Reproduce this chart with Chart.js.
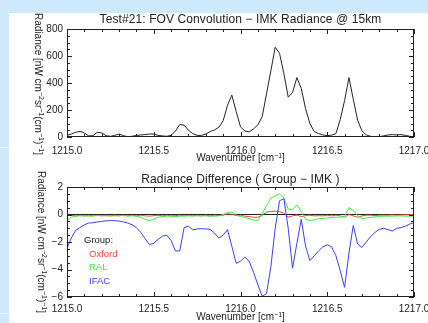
<!DOCTYPE html>
<html>
<head>
<meta charset="utf-8">
<script src="https://cdn.jsdelivr.net/npm/chart.js@4.4.1/dist/chart.umd.min.js"></script>
<style>
  html, body { margin: 0; padding: 0; width: 428px; height: 323px; overflow: hidden; background: #cde9fa; }
  body { position: relative; font-family: "Liberation Sans", Arial, sans-serif; color: #222; }
  #panel { position: absolute; left: 9px; top: 13px; width: 419px; height: 310px; background: #fff; }
  .rule { position: absolute; left: 0; width: 9px; height: 1px; background: #eaf5fd; }
  canvas { position: absolute; left: 0; }
  #top-chart { top: 0; }
  #bottom-chart { top: 160px; }
  .t { position: absolute; white-space: nowrap; line-height: 1; }
  .title { font-size: 12px; letter-spacing: 0.1px; left: 0; width: 481px; text-align: center; }
  .xtitle { font-size: 10px; left: 0; width: 481px; text-align: center; }
  .ytitle { font-size: 10px; writing-mode: vertical-rl; }
  sup { font-size: 7px; line-height: 0; vertical-align: 3px; }
  .leg { font-size: 9.5px; }
</style>
</head>
<body>
<div id="panel"></div>
<div class="rule" style="top:147px"></div>
<div class="rule" style="top:313px"></div>

<canvas id="top-chart" width="428" height="160"></canvas>
<canvas id="bottom-chart" width="428" height="163"></canvas>

<div class="t title" style="top:13px">Test#21: FOV Convolution − IMK Radiance @ 15km</div>
<div class="t xtitle" style="top:153px">Wavenumber [cm<sup>−1</sup>]</div>
<div class="t ytitle" style="left:33px; top:13px">Radiance [nW cm<sup>−2</sup>sr<sup>−1</sup>(cm<sup>−1</sup>)<sup>−1</sup>]</div>

<div class="t title" style="top:173px">Radiance Difference ( Group − IMK )</div>
<div class="t xtitle" style="top:312px">Wavenumber [cm<sup>−1</sup>]</div>
<div class="t ytitle" style="left:36px; top:171px">Radiance [nW cm<sup>−2</sup>sr<sup>−1</sup>(cm<sup>−1</sup>)<sup>−1</sup>]</div>

<div class="t leg" style="left:84px; top:235px; color:#222">Group:</div>
<div class="t leg" style="left:89px; top:249px; color:#ff3c3c">Oxford</div>
<div class="t leg" style="left:89px; top:262px; color:#3ced3c">RAL</div>
<div class="t leg" style="left:89px; top:276px; color:#3c3cff">IFAC</div>

<script>
// ---------- data ----------
const wavenumber = [
  1215.000, 1215.025, 1215.050, 1215.075, 1215.100, 1215.125, 1215.150, 1215.175, 1215.200, 1215.225,
  1215.250, 1215.275, 1215.300, 1215.325, 1215.350, 1215.375, 1215.400, 1215.425, 1215.450, 1215.475,
  1215.500, 1215.525, 1215.550, 1215.575, 1215.600, 1215.625, 1215.650, 1215.675, 1215.700, 1215.725,
  1215.750, 1215.775, 1215.800, 1215.825, 1215.850, 1215.875, 1215.900, 1215.925, 1215.950, 1215.975,
  1216.000, 1216.025, 1216.050, 1216.075, 1216.100, 1216.125, 1216.150, 1216.175, 1216.200, 1216.225,
  1216.250, 1216.275, 1216.300, 1216.325, 1216.350, 1216.375, 1216.400, 1216.425, 1216.450, 1216.475,
  1216.500, 1216.525, 1216.550, 1216.575, 1216.600, 1216.625, 1216.650, 1216.675, 1216.700, 1216.725,
  1216.750, 1216.775, 1216.800, 1216.825, 1216.850, 1216.875, 1216.900, 1216.925, 1216.950, 1216.975,
  1217.000
];

// IMK radiance, FOV convolved
const imkRadiance = [
  12, 22, 35, 42, 30, 8, 10, 35, 30, 10,
  5, 12, 22, 10, 2, 5, 12, 15, 18, 22,
  22, 12, 8, 5, 12, 45, 92, 88, 50, 25,
  12, 12, 22, 40, 52, 72, 120, 235, 310, 190,
  75, 45, 38, 60, 90, 150, 320, 490, 665, 620,
  470, 295, 330, 440, 360, 210, 100, 40, 25, 15,
  10, 14, 25, 130, 270, 440, 280, 125, 45, 15,
  5, 2, 2, 8, 15, 18, 15, 18, 12, 5,
  2
];

// differences (group - IMK)
const oxfordDiff = [
  -0.10, -0.05, -0.10, -0.05, -0.10, -0.05, -0.10, -0.05, -0.10, -0.05,
  -0.10, -0.05, -0.10, -0.05, -0.10, -0.05, -0.10, -0.05, -0.10, -0.12,
  -0.08, -0.05, -0.10, -0.05, -0.10, -0.08, -0.05, -0.10, -0.05, -0.10,
  -0.05, -0.10, -0.05, -0.10, -0.05, -0.08, -0.05, 0.05, 0.02, -0.08,
  -0.05, -0.12, -0.15, -0.20, -0.20, -0.05, 0.18, 0.22, 0.25, 0.20,
  0.10, -0.20, -0.10, -0.04, -0.15, -0.08, -0.05, -0.10, -0.08, -0.10,
  -0.05, -0.10, -0.05, -0.10, -0.20, 0.00, -0.10, -0.20, -0.10, -0.05,
  -0.05, -0.08, -0.05, -0.05, -0.05, -0.03, -0.05, -0.03, -0.02, 0.00,
  0.00
];

const ralDiff = [
  -0.45, -0.20, -0.12, -0.10, -0.10, -0.12, -0.10, -0.08, -0.08, -0.10,
  -0.10, -0.10, -0.08, -0.08, -0.10, -0.10, -0.12, -0.20, -0.35, -0.45,
  -0.35, -0.20, -0.15, -0.12, -0.12, -0.15, -0.12, -0.10, -0.10, -0.10,
  -0.10, -0.10, -0.10, -0.12, -0.12, -0.10, 0.00, 0.15, 0.18, -0.05,
  -0.15, -0.20, -0.30, -0.40, -0.45, 0.05, 0.65, 1.20, 1.35, 1.50,
  1.20, 0.40, 0.35, 0.70, 0.20, -0.35, -0.45, -0.38, -0.30, -0.28,
  -0.25, -0.22, -0.20, -0.20, -0.10, 0.50, 0.30, -0.10, -0.30, -0.25,
  -0.20, -0.18, -0.15, -0.12, -0.12, -0.12, -0.10, -0.10, -0.12, -0.12,
  -0.12
];

const ifacDiff = [
  -2.45, -1.70, -1.15, -0.95, -0.75, -0.62, -0.60, -0.54, -0.50, -0.46,
  -0.44, -0.45, -0.48, -0.54, -0.62, -0.75, -0.95, -1.30, -1.75, -2.18,
  -2.10, -1.80, -1.57, -1.50, -1.90, -2.65, -2.65, -0.95, -0.85, -1.12,
  -1.05, -1.03, -1.05, -1.08, -1.35, -1.72, -1.50, -1.10, -2.30, -3.55,
  -3.40, -3.10, -3.40, -4.20, -5.10, -5.95, -5.75, -3.80, -1.00, 1.00,
  1.15, -1.00, -3.90, -2.10, -0.35, -2.30, -3.35, -3.00, -2.65, -2.35,
  -2.20, -2.35, -3.00, -4.10, -5.30, -2.80, -0.80, -2.15, -2.40, -2.00,
  -1.60, -1.30, -1.08, -1.00, -1.10, -1.20, -1.00, -0.95, -0.85, -0.70,
  -0.58
];

// IMK reference (zero difference) across the range
const imkRefX = [1215.0, 1217.0];
const imkRefY = [0, 0];

// tick positions
const xMajor = [1215.0, 1215.5, 1216.0, 1216.5, 1217.0];
const xMinor = [1215.1, 1215.2, 1215.3, 1215.4, 1215.6, 1215.7, 1215.8, 1215.9,
                1216.1, 1216.2, 1216.3, 1216.4, 1216.6, 1216.7, 1216.8, 1216.9];
const topYMajor = [0, 200, 400, 600, 800];
const topYMinor = [50, 100, 150, 250, 300, 350, 450, 500, 550, 650, 700, 750];
const botYMajor = [-6, -4, -2, 0, 2];
const botYMinor = [-5.5, -5, -4.5, -3.5, -3, -2.5, -1.5, -1, -0.5, 0.5, 1, 1.5];

// ---------- styling ----------
const ink = "#222";
const red = "#ff3c3c";
const green = "#3ced3c";
const blue = "#3c3cff";
const font = { family: '"Liberation Sans", Arial, sans-serif', size: 10 };

// box + inward ticks on all four sides, like the IDL plot frame
const idlFrame = {
  id: "idlFrame",
  afterDatasetsDraw(chart, args, opts) {
    const { ctx, chartArea: a, scales } = chart;
    const x = scales.x, y = scales.y;
    ctx.save();
    ctx.strokeStyle = ink;
    ctx.lineWidth = 1;
    ctx.strokeRect(a.left + 0.5, a.top + 0.5, a.right - a.left - 1, a.bottom - a.top - 1);
    ctx.beginPath();
    const xt = (vals, len) => vals.forEach((v) => {
      const px = Math.round(x.getPixelForValue(v)) + 0.5;
      ctx.moveTo(px, a.bottom); ctx.lineTo(px, a.bottom - len);
      ctx.moveTo(px, a.top); ctx.lineTo(px, a.top + len);
    });
    const yt = (vals, len) => vals.forEach((v) => {
      const py = Math.round(y.getPixelForValue(v)) + 0.5;
      ctx.moveTo(a.left, py); ctx.lineTo(a.left + len, py);
      ctx.moveTo(a.right, py); ctx.lineTo(a.right - len, py);
    });
    xt(opts.xMajor, 5); xt(opts.xMinor, 3);
    yt(opts.yMajor, 5); yt(opts.yMinor, 3);
    ctx.stroke();
    ctx.restore();
  },
};

function toPoints(xs, ys) {
  return xs.map((w, i) => ({ x: w, y: ys[i] }));
}

function lineSet(label, xs, ys, colour, order) {
  return {
    label,
    data: toPoints(xs, ys),
    borderColor: colour,
    borderWidth: 1,
    pointRadius: 0,
    tension: 0,
    fill: false,
    order,
  };
}

function options(cfg) {
  return {
    responsive: false,
    animation: false,
    events: [],
    layout: { padding: { left: 0, right: 14, top: cfg.top, bottom: 0 } },
    plugins: {
      legend: { display: false },
      tooltip: { enabled: false },
      idlFrame: { xMajor, xMinor, yMajor: cfg.yMajor, yMinor: cfg.yMinor },
    },
    scales: {
      x: {
        type: "linear",
        min: 1215,
        max: 1217,
        grid: { display: false, drawTicks: false },
        border: { display: false },
        ticks: {
          stepSize: 0.5,
          autoSkip: false,
          maxRotation: 0,
          color: ink,
          font,
          padding: cfg.xPad,
          callback: (v) => v.toFixed(1),
        },
        afterFit(s) {
          s.height = cfg.xHeight;
          s.paddingLeft = 0;
          s.paddingRight = 0;
        },
      },
      y: {
        min: cfg.yMin,
        max: cfg.yMax,
        grid: { display: false, drawTicks: false },
        border: { display: false },
        ticks: {
          stepSize: cfg.yStep,
          color: ink,
          font,
          padding: 4,
          callback: (v) => (v < 0 ? "\u2212" + Math.abs(v) : String(v)),
        },
        afterFit(s) {
          s.width = 67;
          s.paddingTop = 0;
          s.paddingBottom = 0;
        },
      },
    },
  };
}

// ---------- top: convolved IMK radiance ----------
new Chart(document.getElementById("top-chart"), {
  type: "line",
  data: {
    datasets: [lineSet("IMK", wavenumber, imkRadiance, ink, 1)],
  },
  options: options({ top: 29, xHeight: 23, xPad: 8, yMin: 0, yMax: 800, yStep: 200,
                     yMajor: topYMajor, yMinor: topYMinor }),
  plugins: [idlFrame],
});

// ---------- bottom: group - IMK ----------
new Chart(document.getElementById("bottom-chart"), {
  type: "line",
  data: {
    datasets: [
      lineSet("IMK", imkRefX, imkRefY, ink, 4),
      lineSet("Oxford", wavenumber, oxfordDiff, red, 3),
      lineSet("RAL", wavenumber, ralDiff, green, 2),
      lineSet("IFAC", wavenumber, ifacDiff, blue, 1),
    ],
  },
  options: options({ top: 27, xHeight: 26, xPad: 6, yMin: -6, yMax: 2, yStep: 2,
                     yMajor: botYMajor, yMinor: botYMinor }),
  plugins: [idlFrame],
});
</script>
</body>
</html>
